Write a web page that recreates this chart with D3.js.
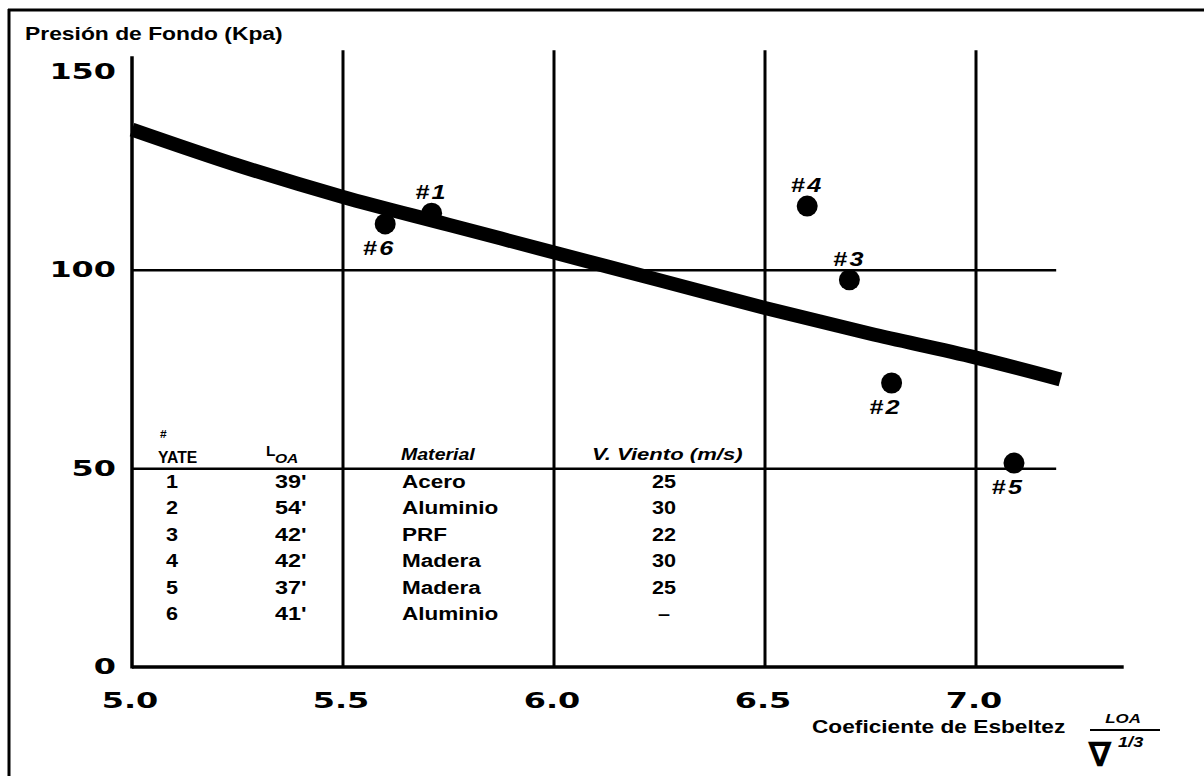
<!DOCTYPE html>
<html>
<head>
<meta charset="utf-8">
<script src="https://cdn.jsdelivr.net/npm/d3@7"></script>
<style>
  body { margin: 0; background: #fff; }
  svg { display: block; background: #fff; }
</style>
</head>
<body>
<svg id="chart" width="1204" height="776"></svg>
<script>
// fitted curve (slenderness vs bottom pressure)
let curveX = [5.0, 5.25, 5.5, 5.75, 6.0, 6.25, 6.5, 6.75, 7.0, 7.2];
let curveP = [135.5, 126.5, 118.5, 111.5, 104.5, 97.5, 90.5, 84, 78, 72.5];

// measured yachts
let yachtIds = [1, 2, 3, 4, 5, 6];
let yachtSlender = [5.71, 6.8, 6.7, 6.6, 7.09, 5.6];
let yachtPressure = [114.4, 71.6, 97.6, 116.2, 51.4, 111.7];
let yachtLabelSide = ["above", "below", "above", "above", "below", "below"];

// table inside the chart
let tableLoa = ["39'", "54'", "42'", "42'", "37'", "41'"];
let tableMaterial = ["Acero", "Aluminio", "PRF", "Madera", "Madera", "Aluminio"];
let tableWind = ["25", "30", "22", "30", "25", "\u2013"];

let xTicks = [5.0, 5.5, 6.0, 6.5, 7.0];
let yTicks = [0, 50, 100, 150];
let xGrid = [5.5, 6.0, 6.5, 7.0];
let yGrid = [50, 100];

let svg = d3.select("#chart");
let arial = "'Liberation Sans', Arial, Helvetica, sans-serif";
let wide = "'DejaVu Sans', Verdana, sans-serif";

let xScale = d3.scaleLinear().domain([5.0, 7.0]).range([132, 976]);
let yScale = d3.scaleLinear().domain([0, 150]).range([667, 72]);

// text helper, the scan is stretched sideways so most text gets a scaleX
function label(g, x, y, str, opts) {
  let o = Object.assign({size: 18, sx: 1.25, anchor: "start", weight: "bold", style: "normal", family: arial}, opts);
  return g.append("text")
    .attr("transform", `translate(${x},${y}) scale(${o.sx},1)`)
    .attr("text-anchor", o.anchor)
    .attr("font-family", o.family)
    .attr("font-size", o.size)
    .attr("font-weight", o.weight)
    .attr("font-style", o.style)
    .attr("fill", "#000")
    .text(str);
}

// frame (top + left edge of the scanned page)
svg.append("line").attr("x1", 8).attr("x2", 1204).attr("y1", 10).attr("y2", 10)
  .attr("stroke", "#000").attr("stroke-width", 3);
svg.append("line").attr("x1", 9).attr("x2", 9).attr("y1", 9).attr("y2", 776)
  .attr("stroke", "#000").attr("stroke-width", 3);

// grid
let grid = svg.append("g");
grid.selectAll(".vgrid")
  .data(xGrid)
  .join("line")
  .attr("class", "vgrid")
  .attr("x1", d => xScale(d)).attr("x2", d => xScale(d))
  .attr("y1", yScale(155.5)).attr("y2", yScale(0))
  .attr("stroke", "#000").attr("stroke-width", 3);

grid.selectAll(".hgrid")
  .data(yGrid)
  .join("line")
  .attr("class", "hgrid")
  .attr("x1", xScale(5.0)).attr("x2", xScale(7.19))
  .attr("y1", d => yScale(d)).attr("y2", d => yScale(d))
  .attr("stroke", "#000").attr("stroke-width", 2.5);

// axes lines
svg.append("line")
  .attr("x1", xScale(5.0)).attr("x2", xScale(5.0))
  .attr("y1", yScale(154)).attr("y2", yScale(0) + 1.5)
  .attr("stroke", "#000").attr("stroke-width", 3.5);
svg.append("line")
  .attr("x1", xScale(5.0)).attr("x2", xScale(7.35))
  .attr("y1", yScale(0)).attr("y2", yScale(0))
  .attr("stroke", "#000").attr("stroke-width", 3.5);

// tick labels (wide bold font)
let ticks = svg.append("g");
yTicks.forEach(v => {
  label(ticks, 116, yScale(v) + 7, String(v), {family: wide, size: 22, sx: 1.45, anchor: "end"});
});
xTicks.forEach(v => {
  label(ticks, xScale(v) - 2, 708, v.toFixed(1), {family: wide, size: 22, sx: 1.45, anchor: "middle"});
});

// titles
label(svg, 25, 40, "Presi\u00f3n de Fondo (Kpa)", {size: 18, sx: 1.27});
label(svg, 812, 733, "Coeficiente de Esbeltez", {size: 18, sx: 1.26});

// fraction Loa / nabla^(1/3)
label(svg, 1123, 723, "LOA", {size: 13, sx: 1.3, style: "italic", anchor: "middle"});
svg.append("line").attr("x1", 1090).attr("x2", 1160).attr("y1", 730).attr("y2", 730)
  .attr("stroke", "#000").attr("stroke-width", 2);
label(svg, 1088, 766, "\u2207", {family: wide, size: 34, sx: 1.0});
label(svg, 1118, 747, "1/3", {size: 14, sx: 1.3, style: "italic"});

// fitted curve
let curveData = curveX.map((x, i) => ({x: x, p: curveP[i]}));
let line = d3.line()
  .x(d => xScale(d.x))
  .y(d => yScale(d.p))
  .curve(d3.curveMonotoneX);

svg.append("path")
  .datum(curveData)
  .attr("d", line)
  .attr("fill", "none")
  .attr("stroke", "#000")
  .attr("stroke-width", 14)
  .attr("stroke-linecap", "butt");

// yachts
let yachts = yachtIds.map((id, i) => ({
  id: id, x: yachtSlender[i], p: yachtPressure[i], side: yachtLabelSide[i]
}));

svg.append("g")
  .selectAll("circle")
  .data(yachts)
  .join("circle")
  .attr("cx", d => xScale(d.x))
  .attr("cy", d => yScale(d.p))
  .attr("r", 10.5)
  .attr("fill", "#000");

let tags = svg.append("g");
yachts.forEach(d => {
  let cx = xScale(d.x);
  let cy = yScale(d.p);
  let ty = d.side == "above" ? cy - 14 : cy + 31;
  label(tags, cx - (d.side == "above" ? 0 : 6), ty, "#" + d.id, {size: 21, sx: 1.2, style: "italic", anchor: "middle"})
    .attr("letter-spacing", 2);
});

// table
let table = svg.append("g");
let rowY = d3.scaleLinear().domain([1, 6]).range([488, 620]);

label(table, 160, 438, "#", {size: 10, sx: 1.2});
label(table, 158, 463, "YATE", {size: 16, sx: 0.98});
label(table, 266, 456, "L", {size: 14, sx: 1.1});
label(table, 275, 463, "OA", {size: 13, sx: 1.2, style: "italic"});
label(table, 401, 460, "Material", {size: 17, sx: 1.15, style: "italic"});
label(table, 592, 460, "V. Viento (m/s)", {size: 17, sx: 1.3, style: "italic"});

yachtIds.forEach((id, i) => {
  let y = rowY(id);
  label(table, 166, y, String(id), {size: 18, sx: 1.2});
  label(table, 275, y, tableLoa[i], {size: 18, sx: 1.3});
  label(table, 402, y, tableMaterial[i], {size: 18, sx: 1.25});
  label(table, 664, y, tableWind[i], {size: 18, sx: 1.2, anchor: "middle"});
});
</script>
</body>
</html>
